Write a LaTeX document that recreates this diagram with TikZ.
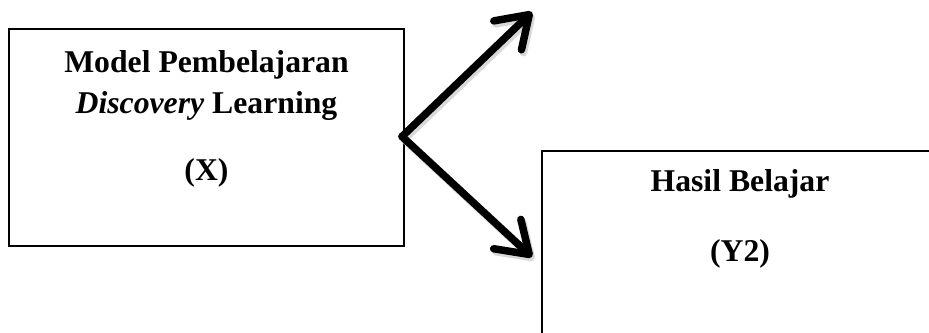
\documentclass[tikz,border=0pt]{standalone}
\usepackage{fontspec}
\setmainfont{Liberation Serif}
\usetikzlibrary{arrows.meta}
\begin{document}
\begin{tikzpicture}[x=1pt,y=1pt,
  box/.style={draw=black,line width=1.8pt,inner sep=0pt},
  lbl/.style={font=\fontsize{31.7}{38}\selectfont\bfseries,anchor=base,inner sep=0pt},
  bigarrow/.style={line width=7.5pt,line cap=round,line join=round,
    -{Straight Barb[round,length=30pt,width=40pt]}},
  shadowarrow/.style={bigarrow,draw=black!25,opacity=0.6}]
\useasboundingbox (0,0) rectangle (929,-332);
% boxes
\node[box,minimum width=395pt,minimum height=217pt] (x) at (206.5,-137.5) {};
\draw[line width=1.8pt] (542,-350) -- (542,-151) -- (945,-151);
\coordinate (y2) at (542,-151);
% texts
\node[lbl] (t1) at (206.5,-72) {Model Pembelajaran};
\node[lbl] (t2) at (206.5,-113) {\textit{Discovery} Learning};
\node[lbl] (t3) at (206.5,-180) {(X)};
\node[lbl] (t4) at (740,-191) {Hasil Belajar};
\node[lbl] (t5) at (740,-261) {(Y2)};
% arrows
\coordinate (v) at (402,-136.5);
\coordinate (up) at (532,-12);
\coordinate (dn) at (532,-257);
\draw[shadowarrow] ([shift={(2,-3)}]v) -- ([shift={(2,-3)}]up);
\draw[shadowarrow] ([shift={(2,-3)}]v) -- ([shift={(2,-3)}]dn);
\draw[bigarrow] (v) -- (up);
\draw[bigarrow] (v) -- (dn);
\end{tikzpicture}
\end{document}
